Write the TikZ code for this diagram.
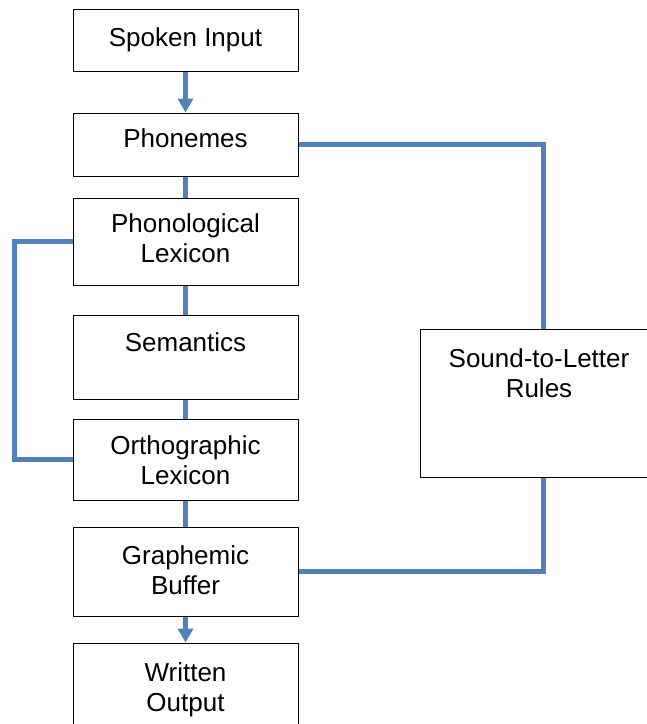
\documentclass[tikz,border=0pt]{standalone}
\usepackage{fontspec}
\setmainfont{Liberation Sans}
\usetikzlibrary{arrows.meta}
\definecolor{linkblue}{RGB}{79,129,189}
\tikzset{
  box/.style={draw=black, line width=1pt, fill=white, inner sep=0pt, minimum width=225pt},
  lbl/.style={anchor=north, inner sep=0pt, align=center, font=\fontsize{26}{30}\selectfont},
  link/.style={draw=linkblue, line width=5pt},
  flow/.style={link, -{Triangle[width=15pt,length=14pt]}}
}
\begin{document}
\begin{tikzpicture}[x=1pt,y=-1pt]
\useasboundingbox (0,0) rectangle (647,724);
\clip (0,0) rectangle (647,724);
% boxes
\node[box, minimum height=62pt] (spoken) at (185.5,40) {};
\node[box, minimum height=63pt] (phon) at (185.5,144.5) {};
\node[box, minimum height=87pt] (plex) at (185.5,241.5) {};
\node[box, minimum height=84pt] (sem) at (185.5,357) {};
\node[box, minimum height=81pt] (olex) at (185.5,459.5) {};
\node[box, minimum height=89pt] (graph) at (185.5,571.5) {};
\node[box, minimum height=87pt] (written) at (185.5,686.5) {};
\node[box, minimum width=246pt, minimum height=148pt] (stl) at (543,403) {};
% labels
\node[lbl] (spokenT) at (185.5,27) {Spoken Input};
\node[lbl] (phonT) at (185.5,128) {Phonemes};
\node[lbl] (plexT) at (185.5,213) {Phonological\\Lexicon};
\node[lbl] (semT) at (185.5,332) {Semantics};
\node[lbl] (olexT) at (185.5,435) {Orthographic\\Lexicon};
\node[lbl] (graphT) at (185.5,545) {Graphemic\\Buffer};
\node[lbl] (writtenT) at (185.5,662) {Written\\Output};
\node[lbl] (stlT) at (539,348) {Sound-to-Letter\\Rules};
% connectors
\draw[flow] (spoken.south) -- (phon.north);
\draw[link] (phon.south) -- (plex.north);
\draw[link] (plex.south) -- (sem.north);
\draw[link] (sem.south) -- (olex.north);
\draw[link] (olex.south) -- (graph.north);
\draw[flow] (graph.south) -- (written.north);
\draw[link, line join=miter] (plex.west) -- ++(-58,0) |- (olex.west);
\draw[link, line join=miter] (phon.east) -| (stl.north);
\draw[link, line join=miter] (stl.south) |- (graph.east);
\end{tikzpicture}
\end{document}
